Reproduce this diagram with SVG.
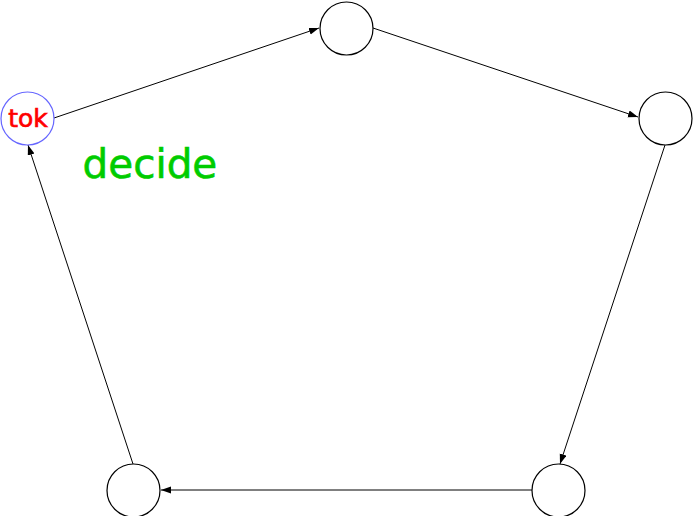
<svg xmlns="http://www.w3.org/2000/svg" width="693" height="516" viewBox="0 0 693 516">
<style>
.node{fill:#fff;stroke:#000;stroke-width:1.2}
.edge{fill:none;stroke:#000;stroke-width:1}
</style>
<defs>
<marker id="ah" markerUnits="userSpaceOnUse" markerWidth="11" markerHeight="8" refX="10" refY="3.5" orient="auto">
<path d="M0,0 L10,3.5 L0,7 z" fill="#000"/>
</marker>
</defs>
<rect width="693" height="516" fill="#fff"/>
<g id="connectors">
<line class="edge" x1="54" y1="118" x2="319" y2="28" marker-end="url(#ah)"/>
<line class="edge" x1="373" y1="28" x2="638" y2="117" marker-end="url(#ah)"/>
<line class="edge" x1="665" y1="145" x2="560" y2="464" marker-end="url(#ah)"/>
<line class="edge" x1="532" y1="490" x2="161" y2="490" marker-end="url(#ah)"/>
<line class="edge" x1="133" y1="464" x2="28" y2="145" marker-end="url(#ah)"/>
</g>
<g id="tok">
<circle cx="27.5" cy="118.5" r="26.5" fill="#fff" stroke="#6666ff" stroke-width="1.2"/>
<text x="28" y="127" text-anchor="middle" font-family="DejaVu Sans, sans-serif" font-size="25" fill="#ff0000" stroke="#ff0000" stroke-width="0.7">tok</text>
</g>
<g id="n_top"><circle class="node" cx="346.5" cy="28.5" r="26.5"/></g>
<g id="n_right"><circle class="node" cx="665.5" cy="118.5" r="26.5"/></g>
<g id="n_br"><circle class="node" cx="558.5" cy="490.5" r="26.5"/></g>
<g id="n_bl"><circle class="node" cx="133.5" cy="490.5" r="26.5"/></g>
<text id="decide" x="82.5" y="178" font-family="DejaVu Sans, sans-serif" font-size="40.5" fill="#00cc00" stroke="#00cc00" stroke-width="0.6">decide</text>
</svg>
